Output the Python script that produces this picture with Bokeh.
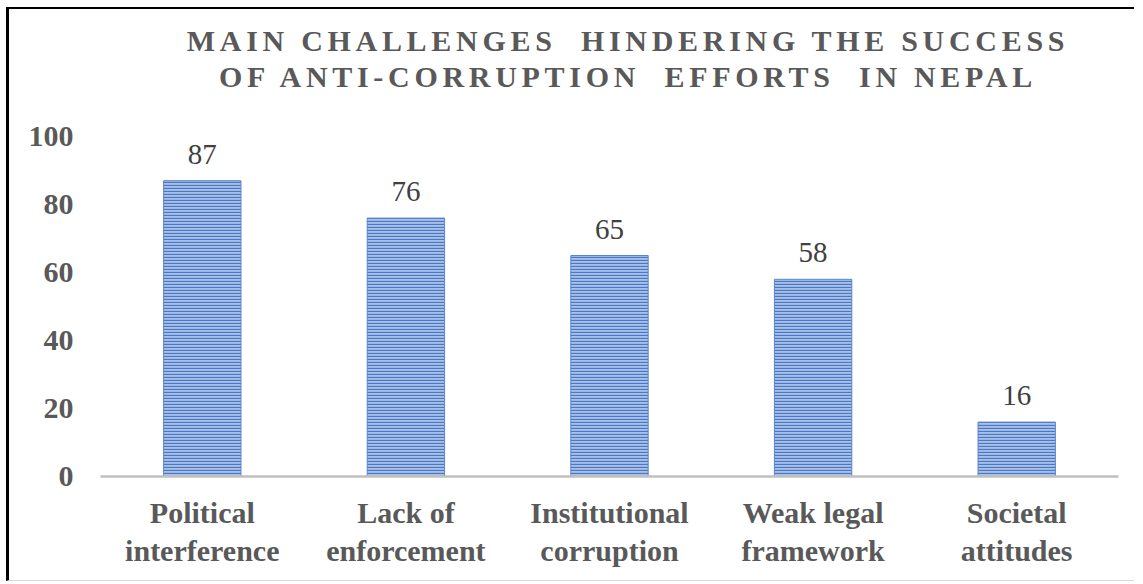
from bokeh.plotting import figure
from bokeh.models import ColumnDataSource, LabelSet, FixedTicker, Range1d, FactorRange, Div
from bokeh.layouts import column
from bokeh.embed import file_html
from bokeh.resources import INLINE

categories = ["Political\ninterference", "Lack of\nenforcement", "Institutional\ncorruption",
              "Weak legal\nframework", "Societal\nattitudes"]
values = [87, 76, 65, 58, 16]
y_ticks = [0, 20, 40, 60, 80, 100]
title_lines = ["MAIN CHALLENGES  HINDERING THE SUCCESS", "OF ANTI-CORRUPTION  EFFORTS  IN NEPAL"]

FONT = "Liberation Serif"
GREY = "#595959"

src = ColumnDataSource(dict(cat=categories, val=values, lab=[str(v) for v in values]))

title_html = (
    f'<div style="width:1125px;box-sizing:border-box;padding-top:14px;padding-left:113px;'
    f'text-align:center;font-family:\'{FONT}\';font-weight:bold;font-size:30px;'
    f'letter-spacing:4.7px;line-height:36px;color:{GREY};white-space:pre;">'
    + "<br>".join(title_lines) + "</div>"
)
div = Div(text=title_html, width=1125, height=108, margin=(0, 0, 0, 0))

p = figure(x_range=FactorRange(*categories), y_range=Range1d(0, 100),
           width=1125, height=463, output_backend="svg", toolbar_location=None,
           min_border_left=91, min_border_right=16, min_border_top=19, min_border_bottom=104,
           margin=(0, 0, 0, 0))
p.outline_line_color = None
p.xgrid.grid_line_color = None
p.ygrid.grid_line_color = None

p.vbar(x="cat", top="val", width=0.38, source=src,
       fill_color="#a9c1e8", hatch_pattern="horizontal_line", hatch_color="#4a78c2",
       hatch_scale=3, hatch_weight=1.3, line_color="#5a86cc", line_width=1)

labels = LabelSet(x="cat", y="val", text="lab", source=src, y_offset=17,
                  text_align="center", text_baseline="alphabetic",
                  text_font=FONT, text_font_size="29px", text_color="#404040")
p.add_layout(labels)

p.yaxis.ticker = FixedTicker(ticks=y_ticks)
p.yaxis.axis_line_color = None
p.yaxis.major_tick_line_color = None
p.yaxis.minor_tick_line_color = None
p.yaxis.major_tick_out = 0
p.yaxis.major_label_standoff = 27
p.yaxis.major_label_text_font = FONT
p.yaxis.major_label_text_font_size = "30px"
p.yaxis.major_label_text_font_style = "bold"
p.yaxis.major_label_text_color = GREY

p.xaxis.axis_line_color = "#bfbfbf"
p.xaxis.axis_line_width = 2.5
p.xaxis.major_tick_line_color = None
p.xaxis.minor_tick_line_color = None
p.xaxis.major_tick_out = 0
p.xaxis.major_label_standoff = 19
p.xaxis.major_label_text_font = FONT
p.xaxis.major_label_text_font_size = "30px"
p.xaxis.major_label_text_font_style = "bold"
p.xaxis.major_label_text_color = GREY
p.xaxis.major_label_text_line_height = 1.17

layout = column(div, p, spacing=0, margin=(7, 0, 0, 6),
                styles={"border-top": "2px solid black", "border-left": "3px solid black",
                        "border-bottom": "1px solid #d9d9d9"})

open("out.html", "w").write(file_html(layout, INLINE))
